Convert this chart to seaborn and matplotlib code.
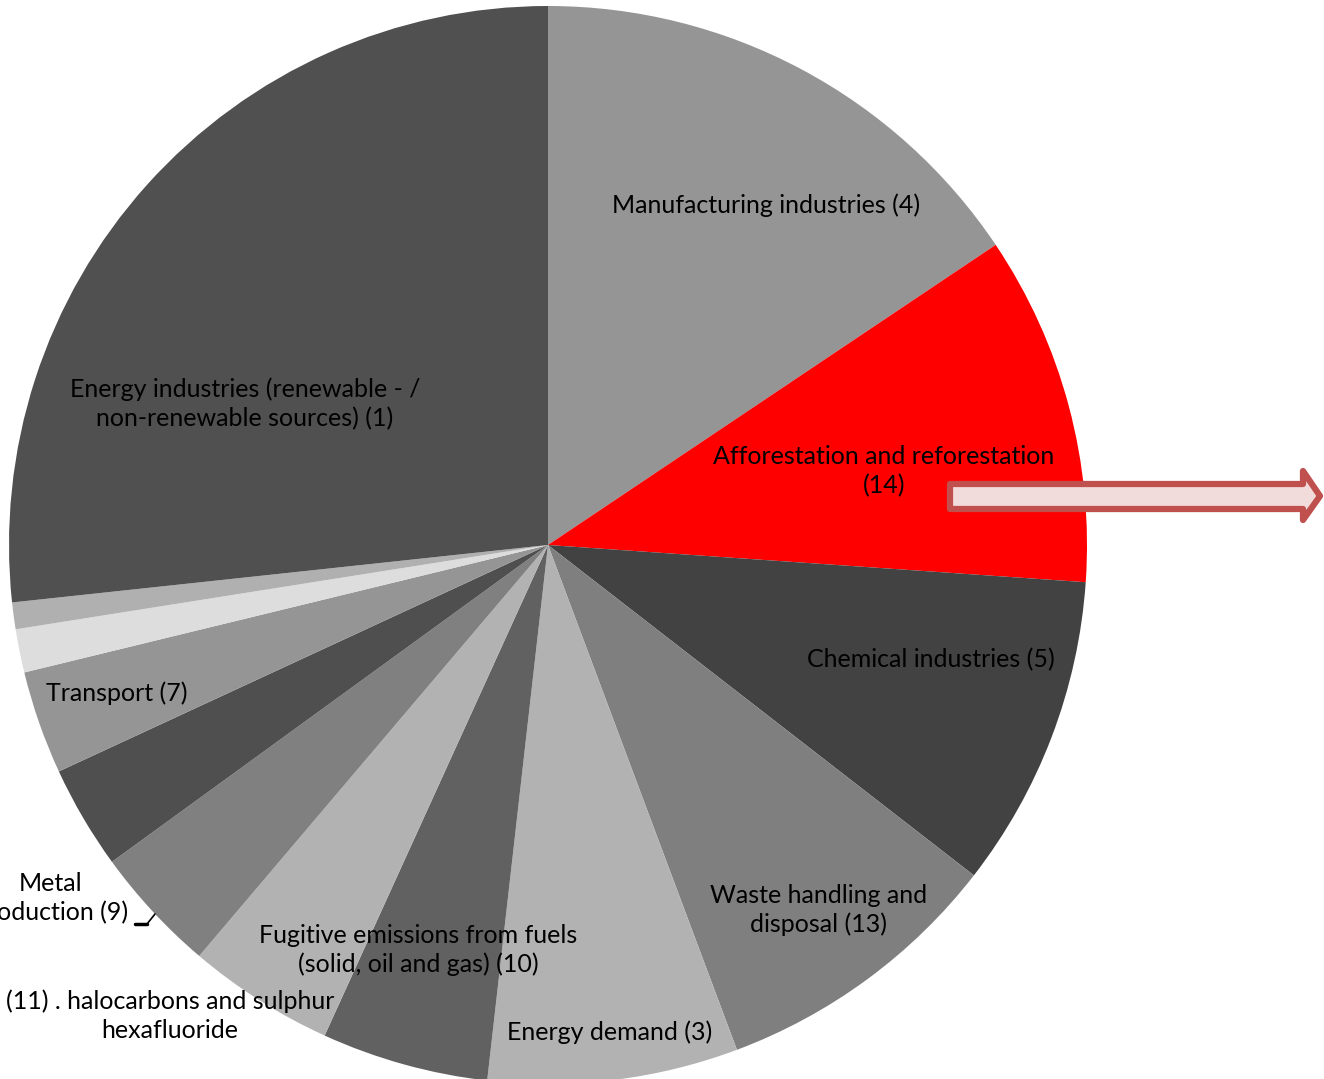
import matplotlib
matplotlib.use("Agg")
import matplotlib.pyplot as plt
from matplotlib.patches import Polygon
from matplotlib.lines import Line2D
import seaborn as sns

# Share of projects per sectoral scope (%), clockwise from 12 o'clock
sectors = [
    "Manufacturing industries (4)",
    "Afforestation and reforestation\n(14)",
    "Chemical industries (5)",
    "Waste handling and\ndisposal (13)",
    "Energy demand (3)",
    "Fugitive emissions from fuels\n(solid, oil and gas) (10)",
    "(11) . halocarbons and sulphur\nhexafluoride",
    "Metal\nproduction (9)",
    "",
    "Transport (7)",
    "",
    "",
    "Energy industries (renewable - /\nnon-renewable sources) (1)",
]
shares = [15.6, 10.5, 9.4, 8.8, 7.5, 5.0, 4.4, 3.8, 3.1, 3.1, 1.3, 0.8, 26.7]
slice_colors = [
    "#959595", "#FF0000", "#424242", "#7F7F7F", "#B2B2B2", "#616161",
    "#B2B2B2", "#808080", "#4F4F4F", "#959595", "#DDDDDD", "#B0B0B0",
    "#505050",
]

sns.set_theme(style="white")
plt.rcParams["font.family"] = ["Lato", "DejaVu Sans"]

W, H = 1324, 1079
fig = plt.figure(figsize=(W / 100, H / 100), dpi=100)
ax = fig.add_axes([0, 0, 1, 1])

cx, cy, r = 548, H - 545, 539
ax.pie(shares, colors=sns.color_palette(slice_colors), startangle=90,
       counterclock=False, center=(cx, cy), radius=r,
       wedgeprops=dict(linewidth=0))
ax.set_xlim(0, W)
ax.set_ylim(0, H)
ax.set_aspect("equal")
ax.axis("off")

# label anchor points in pixel coordinates (x right, y down)
label_pos = [
    (766, 205), (884, 471), (931, 660), (819, 910), (610, 1032),
    (418, 950), (170, 1016), (51, 898), None, (117, 693), None, None,
    (245, 404),
]
for text, pos in zip(sectors, label_pos):
    if not text or pos is None:
        continue
    ax.text(pos[0], H - pos[1], text, ha="center", va="center",
            fontsize=18, color="black", linespacing=1.3)

# leader line for the metal production label
ax.add_line(Line2D([135, 147, 155], [H - 924, H - 924, H - 914],
                   color="black", linewidth=1.2))
ax.add_line(Line2D([135, 147], [H - 924, H - 924], color="black", linewidth=2.5))

# block arrow pointing out of the afforestation slice
arrow_pts = [(950, 484), (1303, 484), (1303, 471), (1320, 496),
             (1303, 520), (1303, 509), (950, 509)]
ax.add_patch(Polygon([(x, H - y) for x, y in arrow_pts], closed=True,
                     facecolor="#F2DCDB", edgecolor="#C0504D", linewidth=4.5,
                     joinstyle="round", zorder=5))

fig.savefig("out.png", dpi=100)
